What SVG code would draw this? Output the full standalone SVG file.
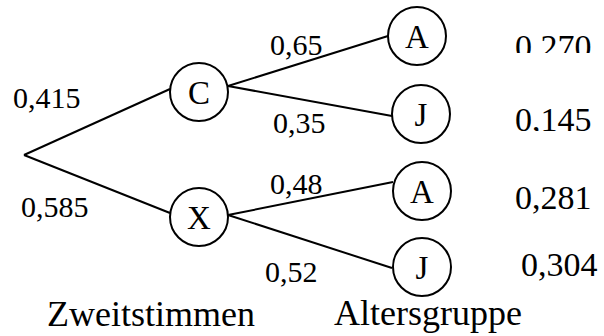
<svg xmlns="http://www.w3.org/2000/svg" width="604" height="336" viewBox="0 0 604 336" font-family="'Liberation Serif', 'Times New Roman', serif">
<style>
.e{stroke:#000;stroke-width:2;fill:none}
.n{stroke:#000;stroke-width:2;fill:#fff}
text{font-family:'Liberation Serif','Times New Roman',serif;fill:#000}
.p{font-size:30px}
.l{font-size:33px;text-anchor:middle}
.r{font-size:34px}
.t{font-size:36px}
</style>
<defs>
<clipPath id="c1"><rect x="500" y="0" width="104" height="53"/></clipPath>
<clipPath id="c2"><rect x="500" y="90" width="104" height="41"/></clipPath>
</defs>
<rect width="604" height="336" fill="#fff"/>
<g id="connectors">
<line class="e" x1="24" y1="155" x2="170" y2="89"/>
<line class="e" x1="24" y1="155" x2="170" y2="213"/>
<line class="e" x1="228" y1="86" x2="388" y2="36"/>
<line class="e" x1="228" y1="86" x2="392" y2="116"/>
<line class="e" x1="228" y1="215" x2="393" y2="182"/>
<line class="e" x1="228" y1="215" x2="392" y2="268"/>
</g>
<g id="edge-labels">
<text class="p" x="13" y="108">0,415</text>
<text class="p" x="21" y="217">0,585</text>
<text class="p" x="270" y="55">0,65</text>
<text class="p" x="273" y="133">0,35</text>
<text class="p" x="270" y="194">0,48</text>
<text class="p" x="265" y="282">0,52</text>
</g>
<g id="C"><circle class="n" cx="199" cy="92" r="29"/><text class="l" x="199" y="104">C</text></g>
<g id="X"><circle class="n" cx="199" cy="217" r="29"/><text class="l" x="199" y="229">X</text></g>
<g id="CA"><circle class="n" cx="417" cy="36" r="29"/><text class="l" x="417" y="48">A</text></g>
<g id="CJ"><circle class="n" cx="421" cy="114" r="29"/><text class="l" x="421" y="126">J</text></g>
<g id="XA"><circle class="n" cx="422" cy="191" r="29"/><text class="l" x="422" y="203">A</text></g>
<g id="XJ"><circle class="n" cx="422" cy="267" r="29"/><text class="l" x="422" y="279">J</text></g>
<g id="results">
<text class="r" x="515" y="58" clip-path="url(#c1)">0,270</text>
<text class="r" x="515" y="131" clip-path="url(#c2)">0,145</text>
<text class="r" x="515" y="209">0,281</text>
<text class="r" x="521" y="276">0,304</text>
</g>
<g id="titles">
<text class="t" x="47" y="326">Zweitstimmen</text>
<text class="t" x="334" y="325">Altersgruppe</text>
</g>
</svg>
